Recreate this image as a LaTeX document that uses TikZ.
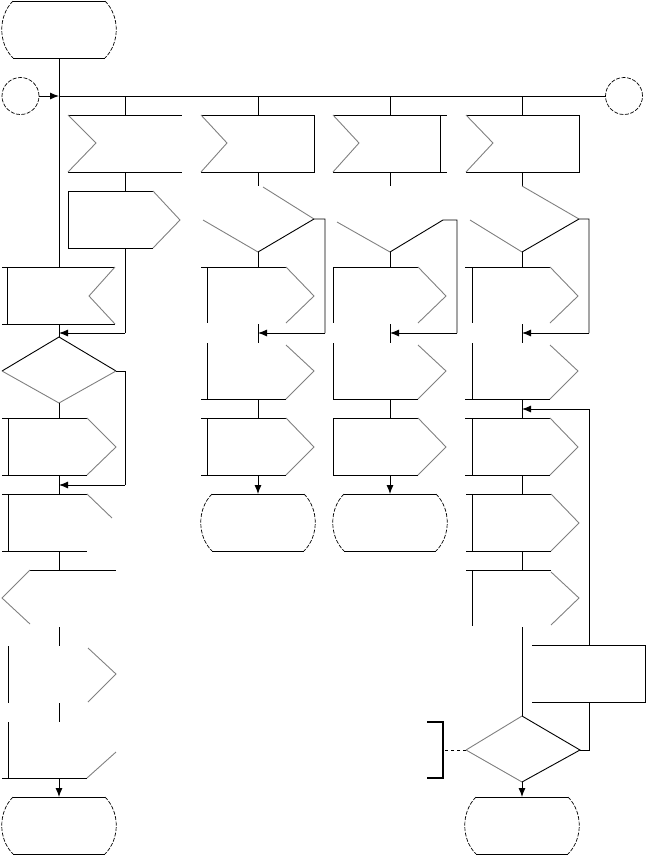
\documentclass[tikz,border=0pt]{standalone}
\usetikzlibrary{arrows.meta}
\tikzset{
  ln/.style={line width=0.9pt},
  fd/.style={line width=0.9pt, black!50},
  cv/.style={line width=0.7pt, dash pattern=on 4pt off 1.5pt},
  arr/.style={ln, -{Latex[length=9pt,width=7pt]}},
  con/.style={circle, draw, cv, minimum size=37pt, inner sep=0pt},
}
% terminal symbol: centre x, top y
\newcommand{\sdlterm}[2]{%
  \draw[ln] (#1-46,#2) -- (#1+46,#2) (#1-46,#2+57) -- (#1+46,#2+57);
  \draw[cv] (#1-46,#2) .. controls (#1-61,#2+15) and (#1-61,#2+42) .. (#1-46,#2+57);
  \draw[cv] (#1+46,#2) .. controls (#1+61,#2+15) and (#1+61,#2+42) .. (#1+46,#2+57);
}
\begin{document}
\begin{tikzpicture}[x=1pt,y=-1pt]
\useasboundingbox (0,0) rectangle (646,855);

% start and connectors
\sdlterm{59}{1}
\node[con] (cl) at (20.5,96) {};
\node[con] (cr) at (624,96) {};
\coordinate (j) at (59,96);
\draw[ln] (59,58) -- (59,267);
\draw[arr] (cl) -- (j);
\draw[ln] (j) -- (cr);
\foreach \x in {125,258,390,522} \draw[ln] (\x,96) -- (\x,115);

% input symbols
\draw[ln] (68,115) -- (182,115) (68,172) -- (182,172);
\draw[fd] (68,115) -- (96,143) -- (68,172);
\draw[ln] (201,115) -- (314,115) -- (314,172) -- (201,172);
\draw[fd] (201,115) -- (227,143) -- (201,172);
\draw[ln] (333,115) -- (447,115) (440,115) -- (440,172) (333,172) -- (447,172);
\draw[fd] (333,115) -- (359,143) -- (333,172);
\draw[ln] (466,115) -- (579,115) -- (579,172) -- (466,172);
\draw[fd] (466,115) -- (493,143) -- (466,172);

% column 1
\draw[ln] (125,172) -- (125,191);
\draw[ln] (153,191) -- (68,191) -- (68,248) -- (153,248);
\draw[fd] (153,191) -- (180,220) -- (153,248);
\coordinate (m1) at (59,333);
\draw[ln] (125,248) -- (125,333);
\draw[arr] (125,333) -- (m1);

% left column
\draw[ln] (2,267) -- (115,267) (2,324) -- (115,324) (7,267) -- (7,324);
\draw[fd] (115,267) -- (89,296) -- (115,324);
\draw[ln] (59,324) -- (59,337);
\draw[ln] (2,371) -- (59,337) -- (116,371);
\draw[fd] (2,371) -- (59,403) -- (116,371);
\coordinate (m2) at (59,485);
\draw[ln] (116,371) -- (125,371) -- (125,485);
\draw[arr] (125,485) -- (m2);
\draw[ln] (59,403) -- (59,418);
\draw[ln] (2,418) -- (87,418) (2,475) -- (87,475) (8,418) -- (8,475);
\draw[fd] (87,418) -- (116,447) -- (87,475);
\draw[ln] (59,475) -- (59,494);
\draw[ln] (2,494) -- (87,494) (2,551) -- (87,551) (8,494) -- (8,551);
\draw[fd] (87,494) -- (112,518);
\draw[ln] (59,551) -- (59,570);
\draw[ln] (30,570) -- (116,570);
\draw[fd] (30,570) -- (2,598) -- (30,624);
\draw[ln] (59,627) -- (59,646) (59,703) -- (59,722);
\draw[ln] (8,646) -- (8,703);
\draw[fd] (88,648) -- (116,674) -- (88,702);
\draw[ln] (8,722) -- (8,778) (2,778) -- (87,778);
\draw[fd] (87,778) -- (116,752);
\coordinate (t1) at (59,797);
\draw[arr] (59,778) -- (t1);
\sdlterm{59}{797}

% decisions of columns 2 to 4
\draw[ln] (258,172) -- (258,186) (390,172) -- (390,186) (522,172) -- (522,186);
\draw[fd] (263,187) -- (314,219) (203,220) -- (258,252);
\draw[ln] (258,252) -- (314,219) -- (325,219) -- (325,333);
\draw[arr] (325,333) -- (258,333);
\draw[fd] (337,222) -- (390,252);
\draw[ln] (390,252) -- (443,220) -- (457,220) -- (457,333);
\draw[arr] (457,333) -- (390,333);
\draw[fd] (522,186) -- (579,219) (470,220) -- (522,252);
\draw[ln] (522,252) -- (579,219) -- (589,219) -- (589,333);
\draw[arr] (589,333) -- (522,333);

% output symbols of columns 2 to 4
\foreach \x/\l in {258/207, 390/333, 522/472} {
  \draw[ln] (\x,252) -- (\x,267) (\x,324) -- (\x,343) (\x,399) -- (\x,418);
  \draw[ln] (\x-57,267) -- (\x+28,267) (\l,267) -- (\l,323);
  \draw[fd] (\x+28,267) -- (\x+56,296) -- (\x+28,323);
  \draw[ln] (\l,343) -- (\l,399) (\x-57,399) -- (\x+28,399);
  \draw[fd] (\x+28,345) -- (\x+56,371) -- (\x+28,399);
  \draw[ln] (\x-57,418) -- (\x+28,418) (\x-57,475) -- (\x+28,475) (\l,418) -- (\l,475);
  \draw[fd] (\x+28,418) -- (\x+56,447) -- (\x+28,475);
}
\draw[arr] (258,475) -- (258,494);
\sdlterm{258}{494}
\draw[arr] (390,475) -- (390,494);
\sdlterm{390}{494}

% column 4 loop
\draw[ln] (522,475) -- (522,494);
\draw[ln] (466,494) -- (551,494) (466,551) -- (551,551) (472,494) -- (472,551);
\draw[fd] (551,494) -- (579,523) -- (551,551);
\draw[ln] (522,551) -- (522,570);
\draw[ln] (466,570) -- (551,570) (472,570) -- (472,626);
\draw[fd] (551,572) -- (579,598) -- (551,625);
\draw[ln] (522,627) -- (522,716);
\draw[ln] (532,645) -- (645,645) -- (645,702) -- (532,702);
\draw[fd] (466,750) -- (522,716) (466,750) -- (522,782);
\draw[ln] (522,716) -- (580,750) -- (522,782);
\coordinate (m3) at (522,409);
\draw[ln] (580,750) -- (589,750) -- (589,702) (589,645) -- (589,409);
\draw[arr] (589,409) -- (m3);
\coordinate (t2) at (522,797);
\draw[arr] (522,782) -- (t2);
\sdlterm{522}{797}

% comment
\draw[ln, dashed] (466,750) -- (443,750);
\draw[line width=1.8pt] (427,722) -- (443,722) -- (443,778) -- (427,778);
\end{tikzpicture}
\end{document}
